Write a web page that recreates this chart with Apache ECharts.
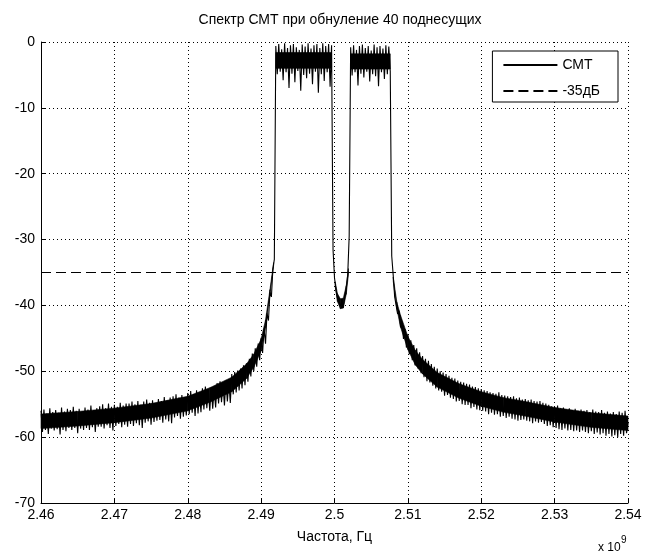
<!DOCTYPE html>
<html>
<head>
<meta charset="utf-8">
<script src="https://cdn.jsdelivr.net/npm/echarts@6/dist/echarts.min.js"></script>
<style>
html,body{margin:0;padding:0;background:#fff;}
#chart{width:646px;height:555px;}
</style>
</head>
<body>
<div id="chart"></div>
<script>
// Frequency grid (GHz): start and step of the sampled spectrum
const freqStartGHz = 2.46;
const freqStepGHz = 0.0002;

// Spectrum values (dB), one per frequency step
const leftTailDb = [
 -56.0,-59.2,-55.8,-58.9,-56.4,-59.5,-55.6,-58.7,-56.2,-59.0,
 -55.9,-58.8,-56.3,-59.6,-55.5,-58.9,-56.1,-59.1,-55.7,-58.6,
 -55.9,-58.9,-55.4,-58.6,-56.0,-59.4,-55.7,-58.7,-56.1,-58.9,
 -55.5,-58.6,-55.8,-58.9,-55.2,-58.5,-55.9,-59.2,-55.6,-58.4,
 -55.3,-58.4,-55.0,-58.7,-55.6,-58.2,-54.9,-58.6,-55.4,-59.0,
 -55.1,-58.3,-55.4,-58.0,-54.8,-58.5,-55.2,-58.1,-54.9,-58.4,
 -54.9,-58.0,-54.6,-58.3,-55.0,-57.9,-54.5,-58.2,-55.1,-58.6,
 -54.6,-57.8,-54.3,-57.6,-54.8,-58.1,-54.4,-57.7,-54.9,-57.5,
 -54.2,-57.4,-54.5,-57.8,-53.9,-57.3,-54.4,-57.6,-54.0,-57.9,
 -53.8,-57.0,-53.5,-56.8,-54.0,-57.2,-53.6,-56.9,-53.9,-56.7,
 -53.3,-56.5,-53.0,-56.3,-53.5,-56.8,-52.9,-56.4,-53.4,-56.2,
 -52.6,-55.8,-52.3,-55.6,-52.8,-56.0,-52.4,-55.7,-52.7,-55.5,
 -51.8,-54.9,-51.5,-54.7,-51.9,-55.2,-51.4,-54.6,-51.7,-54.8,
 -50.4,-53.5,-50.1,-53.2,-49.9,-52.9,-49.6,-52.6,-49.1,-52.1,
 -48.8,-51.6,-48.1,-50.8,-47.3,-50.0,-46.5,-49.3,-45.8,-48.3,
 -44.9,-47.2,-43.5,-45.8,-41.2,-42.3,-38.0,-38.7,-34.5,-33.0
];
const band1Db = [
 -0.6,-4.9,-0.3,-4.5,-1.1,-5.8,-0.2,-4.6,-0.9,-7.0,
 -0.5,-4.8,-0.3,-6.1,-0.8,-4.4,-1.2,-7.4,-0.4,-5.0,
 -0.7,-5.5,-0.2,-4.8,-1.0,-6.4,-0.5,-4.5,-0.3,-7.7,
 -0.9,-4.9,-0.2,-5.9,-0.6,-4.6,-0.3,-6.8,-0.5
];
const gapDb = [
 -31.5,
 -35.8,-37.6,-38.9,-39.2,-40.1,-39.3,-40.2,-38.6,-37.4,-35.4,-29.5
];
const band2Db = [
 -0.8,-5.1,-0.5,-4.6,-1.2,-6.6,-0.6,-4.8,-0.4,-5.4,
 -0.9,-4.5,-0.6,-6.0,-1.3,-4.9,-0.4,-5.2,-0.8,-6.7,
 -0.6,-4.6,-1.0,-5.6,-0.5,-4.9,-0.7,-4.5
];
const rightTailDb = [
 -32.5,
 -35.4,-38.7,-38.8,-41.3,-40.8,-43.3,-42.4,-45.1,-43.6,-46.4,
 -44.4,-47.4,-45.3,-48.3,-46.0,-49.1,-46.5,-49.6,-47.1,-50.3,
 -47.7,-50.9,-48.1,-51.5,-48.4,-51.7,-48.9,-52.2,-49.3,-52.6,
 -49.6,-52.9,-50.0,-53.1,-50.2,-53.7,-50.4,-53.6,-50.7,-54.0,
 -51.0,-54.2,-51.1,-54.6,-51.4,-54.5,-51.6,-55.0,-51.7,-55.1,
 -51.9,-55.1,-52.0,-55.6,-52.3,-55.4,-52.4,-55.8,-52.6,-55.9,
 -52.7,-56.0,-52.9,-56.1,-53.0,-56.5,-53.2,-56.3,-53.3,-56.6,
 -53.4,-56.5,-53.2,-56.9,-53.6,-56.8,-53.7,-57.1,-53.8,-56.9,
 -53.9,-57.2,-53.8,-57.3,-54.1,-57.5,-54.0,-57.4,-54.3,-57.3,
 -54.2,-57.5,-54.4,-57.6,-54.3,-57.9,-54.5,-57.6,-54.6,-57.8,
 -54.5,-57.7,-54.8,-58.0,-54.9,-58.3,-55.1,-58.2,-55.3,-58.5,
 -55.4,-58.6,-55.2,-58.8,-55.6,-58.9,-55.5,-58.7,-55.8,-59.0,
 -55.6,-58.9,-55.9,-59.1,-55.7,-59.0,-56.0,-59.2,-55.8,-59.0,
 -56.0,-59.2,-55.9,-59.4,-56.2,-59.1,-55.8,-59.5,-56.1,-59.3,
 -56.2,-59.6,-55.9,-59.4,-56.3,-59.8,-56.1,-59.5,-56.4,-59.9,
 -56.2,-59.7,-56.5,-60.0,-56.1,-59.5,-56.3,-59.8,-56.0,-59.4,-57.8
];

// Dense core of the noisy trace (solid black band)
const coreFreqGHz  = [2.460, 2.465, 2.470, 2.475, 2.480, 2.483, 2.486, 2.488, 2.489, 2.490, 2.4906, 2.4912, 2.4917,
                      2.4920, 2.4996,
                      2.5001, 2.5004, 2.5008, 2.5012, 2.5016, 2.5019,
                      2.5022, 2.5076,
                      2.5080, 2.5085, 2.509, 2.510, 2.511, 2.512, 2.514, 2.517, 2.520, 2.523, 2.526, 2.530, 2.535, 2.540];
const coreUpperDb  = [-56.5, -56.1, -55.6, -54.9, -53.8, -52.5, -50.9, -48.9, -47.4, -45.1, -42.2, -37.6, -33.5,
                      -1.6, -1.6,
                      -36.4, -38.2, -39.0, -38.9, -37.0, -34.4,
                      -1.8, -1.8,
                      -35.7, -39.5, -41.5, -44.7, -46.8, -48.2, -50.2, -51.9, -53.1, -54.0, -54.6, -55.5, -56.3, -56.8];
const coreLowerDb  = [-58.7, -58.3, -57.8, -57.1, -56.0, -54.7, -53.1, -51.1, -49.4, -46.9, -43.4, -38.4, -34.0,
                      -4.0, -4.0,
                      -37.2, -39.4, -40.5, -40.4, -38.3, -35.3,
                      -4.1, -4.1,
                      -36.3, -40.5, -43.3, -46.7, -49.0, -50.4, -52.4, -54.1, -55.3, -56.2, -56.8, -57.7, -58.5, -59.0];
const coreGroup    = [0,0,0,0,0,0,0,0,0,0,0,0,0, 1,1, 2,2,2,2,2,2, 3,3, 4,4,4,4,4,4,4,4,4,4,4,4,4,4];

// Threshold line
const thresholdDb = -35;
const freqMinGHz = 2.46, freqMaxGHz = 2.54;

// Axis ticks
const xTicks = [2.46, 2.47, 2.48, 2.49, 2.5, 2.51, 2.52, 2.53, 2.54];
const yTicks = [0, -10, -20, -30, -40, -50, -60, -70];

// Texts
const titleText = 'Спектр СМТ при обнуление 40 поднесущих';
const xAxisName = 'Частота, Гц';
const seriesNames = ['СМТ', '-35дБ'];

const spectrumDb = [].concat(leftTailDb, band1Db, gapDb, band2Db, rightTailDb);
const spectrumData = spectrumDb.map((v, i) => [freqStartGHz + i * freqStepGHz, v]);
const thresholdData = [[freqMinGHz, thresholdDb], [freqMaxGHz, thresholdDb]];
const coreData = coreFreqGHz.map((f, i) => [f, coreUpperDb[i], coreLowerDb[i], coreGroup[i]]);

const FONT = '"Liberation Sans", Arial, sans-serif';

const chart = echarts.init(document.getElementById('chart'), null, {renderer: 'canvas'});
chart.setOption({
  animation: false,
  backgroundColor: '#fff',
  textStyle: {fontFamily: FONT, color: '#000'},
  title: {
    text: titleText,
    left: 335, top: 8, textAlign: 'center',
    textStyle: {fontFamily: FONT, fontSize: 14, fontWeight: 'normal', color: '#000'}
  },
  grid: {left: 41, right: 18, top: 42, bottom: 52, containLabel: false},
  legend: {
    orient: 'vertical',
    right: 28, top: 51,
    backgroundColor: '#fff',
    borderColor: '#000', borderWidth: 1, borderRadius: 0,
    padding: [7, 18, 4, 10],
    itemWidth: 54, itemHeight: 14, itemGap: 12,
    itemStyle: {opacity: 0},
    textStyle: {fontFamily: FONT, fontSize: 14, color: '#000'},
    data: seriesNames
  },
  xAxis: {
    type: 'value',
    min: freqMinGHz, max: freqMaxGHz, interval: 0.01,
    name: xAxisName, nameLocation: 'middle', nameGap: 27,
    nameTextStyle: {fontFamily: FONT, fontSize: 14, color: '#000'},
    axisLine: {show: true, onZero: false, lineStyle: {color: '#000', width: 1}},
    axisTick: {show: true, inside: true, length: 5, lineStyle: {color: '#000'}},
    axisLabel: {
      fontFamily: FONT, fontSize: 14, color: '#000', margin: 5,
      formatter: v => String(parseFloat(v.toFixed(2)))
    },
    splitLine: {show: true, lineStyle: {color: '#000', type: [1, 3], width: 1}}
  },
  yAxis: {
    type: 'value',
    min: -70, max: 0, interval: 10,
    axisLine: {show: true, lineStyle: {color: '#000', width: 1}},
    axisTick: {show: true, inside: true, length: 5, lineStyle: {color: '#000'}},
    axisLabel: {fontFamily: FONT, fontSize: 14, color: '#000', margin: 6},
    splitLine: {show: true, lineStyle: {color: '#000', type: [1, 3], width: 1}}
  },
  series: [
    {
      name: seriesNames[0], type: 'line', data: spectrumData,
      symbol: 'none', showSymbol: false, sampling: null,
      lineStyle: {color: '#000', width: 1.1}, itemStyle: {color: '#000'},
      z: 3
    },
    {
      name: 'core', type: 'custom', data: coreData, z: 3, silent: true,
      encode: {x: 0, y: [1, 2]},
      renderItem: function (params, api) {
        const i = params.dataIndex;
        if (i >= coreData.length - 1 || coreData[i][3] !== coreData[i + 1][3]) return null;
        const a = coreData[i], b = coreData[i + 1];
        const pts = [api.coord([a[0], a[1]]), api.coord([b[0], b[1]]),
                     api.coord([b[0], b[2]]), api.coord([a[0], a[2]])];
        return {type: 'polygon', shape: {points: pts}, style: {fill: '#000', stroke: '#000', lineWidth: 0.6}};
      }
    },
    {
      name: seriesNames[1], type: 'line', data: thresholdData,
      symbol: 'none', showSymbol: false,
      lineStyle: {color: '#000', width: 1, type: [10, 5]}, itemStyle: {color: '#000'},
      z: 2
    }
  ],
  graphic: [
    {type: 'text', left: 598, top: 542, style: {text: 'x 10', fontFamily: FONT, fontSize: 12, fill: '#000'}},
    {type: 'text', left: 621, top: 535, style: {text: '9', fontFamily: FONT, fontSize: 10, fill: '#000'}}
  ]
});
</script>
</body>
</html>
